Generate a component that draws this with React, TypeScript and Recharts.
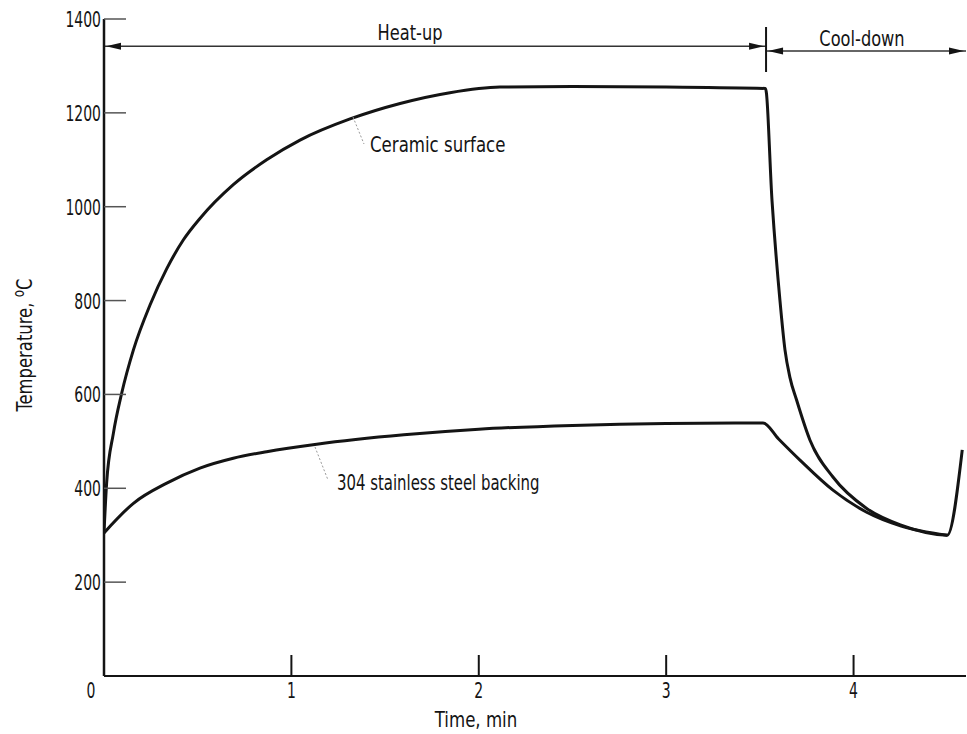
import { Line, LineChart, ReferenceLine, XAxis, YAxis } from 'recharts'

const TIME_TICKS = [0, 1, 2, 3, 4]
const TEMP_TICKS = [0, 200, 400, 600, 800, 1000, 1200, 1400]

// ceramic surface, min / deg C
const CERAMIC_TIME = [0, 0.014, 0.05, 0.094, 0.157, 0.245, 0.335, 0.423, 0.512, 0.69, 0.868, 1.046, 1.313, 1.58, 1.846, 2.113, 2.5, 3.0, 3.53, 3.565, 3.607, 3.634, 3.66, 3.696, 3.767, 3.89, 4.07, 4.25, 4.5, 4.58]
const CERAMIC_TEMP = [305, 411, 517, 602, 695, 790, 868, 929, 975, 1047, 1100, 1142, 1187, 1220, 1243, 1255, 1256, 1255, 1252, 1012, 801, 695, 637, 588, 503, 424, 357, 322, 300, 482]

// 304 stainless steel backing
const STEEL_TIME = [0, 0.157, 0.335, 0.512, 0.69, 0.868, 1.135, 1.6, 2.0, 2.5, 3.0, 3.517, 3.6, 3.714, 3.89, 4.07, 4.25, 4.5]
const STEEL_TEMP = [305, 368, 411, 443, 464, 478, 494, 514, 526, 534, 538, 539, 505, 460, 396, 349, 320, 300]

const PHASE_SPLIT = 3.533
const PHASE_MAX = 4.6

const FONT = "'Liberation Sans Narrow', 'DejaVu Sans Condensed', 'Liberation Sans', sans-serif"
const INK = '#141414'

const ceramicData = CERAMIC_TIME.map((t, i) => ({ t, temp: CERAMIC_TEMP[i] }))
const steelData = STEEL_TIME.map((t, i) => ({ t, temp: STEEL_TEMP[i] }))

// the original lettering is a tall condensed face, so squeeze horizontally
function NarrowText({ x, y, sx = 0.82, size = 22, anchor = 'start', rotate = 0, children }: any) {
  return (
    <g transform={`translate(${x} ${y}) rotate(${rotate}) scale(${sx} 1)`}>
      <text x={0} y={0} textAnchor={anchor} fontFamily={FONT} fontSize={size} fill={INK}>
        {children}
      </text>
    </g>
  )
}

function TimeTick(props: any) {
  const { x, y, payload } = props
  const v = payload.value
  return (
    <g>
      {v !== 0 && <line x1={x} y1={y} x2={x} y2={y - 21} stroke={INK} strokeWidth={2} />}
      <NarrowText x={v === 0 ? x - 13 : x} y={y + 22} sx={0.74} size={21} anchor="middle">
        {v}
      </NarrowText>
    </g>
  )
}

function TempTick(props: any) {
  const { x, y, payload } = props
  const v = payload.value
  if (v === 0) return <g />
  return (
    <g>
      <line x1={x} y1={y} x2={x + 22} y2={y} stroke="#555" strokeWidth={1.5} />
      <NarrowText x={x - 3} y={y + 8} sx={0.74} size={21} anchor="end">
        {v}
      </NarrowText>
    </g>
  )
}

function arrowHead(x: number, y: number, dir: number) {
  const len = 15
  return `${x},${y} ${x + dir * len},${y - 3.5} ${x + dir * len},${y + 3.5}`
}

function DoubleArrow(props: any) {
  const { x1, y1, x2, y2 } = props
  return (
    <g>
      <line x1={x1} y1={y1} x2={x2} y2={y2} stroke="#333" strokeWidth={1.5} />
      <polygon points={arrowHead(x1 + 2, y1, 1)} fill={INK} />
      <polygon points={arrowHead(x2 - 2, y2, -1)} fill={INK} />
    </g>
  )
}

function Divider(props: any) {
  const { x1, y1, x2, y2 } = props
  return <line x1={x1} y1={y1} x2={x2} y2={y2} stroke={INK} strokeWidth={2} />
}

export default function App() {
  return (
    <div style={{ position: 'absolute', left: 0, top: 0, width: 967, height: 734, background: '#fff' }}>
      <LineChart width={967} height={734} margin={{ top: 19, right: 1, left: 0, bottom: 0 }}>
        <XAxis
          type="number"
          dataKey="t"
          domain={[0, PHASE_MAX]}
          ticks={TIME_TICKS}
          allowDataOverflow
          height={58}
          tickSize={0}
          tickMargin={0}
          tick={<TimeTick />}
          axisLine={{ stroke: INK, strokeWidth: 2 }}
          tickLine={false}
        />
        <YAxis
          type="number"
          domain={[0, 1400]}
          ticks={TEMP_TICKS}
          width={104}
          tickSize={0}
          tickMargin={0}
          tick={<TempTick />}
          axisLine={{ stroke: INK, strokeWidth: 2.5 }}
          tickLine={false}
        />
        <ReferenceLine segment={[{ x: 0, y: 1342 }, { x: PHASE_SPLIT, y: 1342 }]} shape={<DoubleArrow />} />
        <ReferenceLine segment={[{ x: PHASE_SPLIT, y: 1332 }, { x: PHASE_MAX, y: 1332 }]} shape={<DoubleArrow />} />
        <ReferenceLine segment={[{ x: PHASE_SPLIT, y: 1383 }, { x: PHASE_SPLIT, y: 1287 }]} shape={<Divider />} />
        <Line
          data={ceramicData}
          dataKey="temp"
          type="monotone"
          stroke={INK}
          strokeWidth={3}
          dot={false}
          isAnimationActive={false}
        />
        <Line
          data={steelData}
          dataKey="temp"
          type="monotone"
          stroke={INK}
          strokeWidth={3}
          dot={false}
          isAnimationActive={false}
        />
      </LineChart>
      <svg
        width={967}
        height={734}
        style={{ position: 'absolute', left: 0, top: 0, pointerEvents: 'none' }}
      >
        <NarrowText x={410} y={40} anchor="middle">Heat-up</NarrowText>
        <NarrowText x={862} y={46} anchor="middle">Cool-down</NarrowText>
        <line x1={353} y1={117} x2={364} y2={144} stroke="#999" strokeWidth={1} strokeDasharray="2 2" />
        <NarrowText x={370} y={152} sx={0.84}>Ceramic surface</NarrowText>
        <line x1={315} y1={447} x2={328} y2={480} stroke="#999" strokeWidth={1} strokeDasharray="2 2" />
        <NarrowText x={337} y={490} sx={0.79} size={21}>304 stainless steel backing</NarrowText>
        <NarrowText x={476} y={727} anchor="middle" sx={0.84}>Time, min</NarrowText>
        <NarrowText x={32} y={345} anchor="middle" sx={0.83} rotate={-90}>
          Temperature, <tspan dy={-8} fontSize={16}>o</tspan><tspan dy={8}>C</tspan>
        </NarrowText>
      </svg>
    </div>
  )
}
